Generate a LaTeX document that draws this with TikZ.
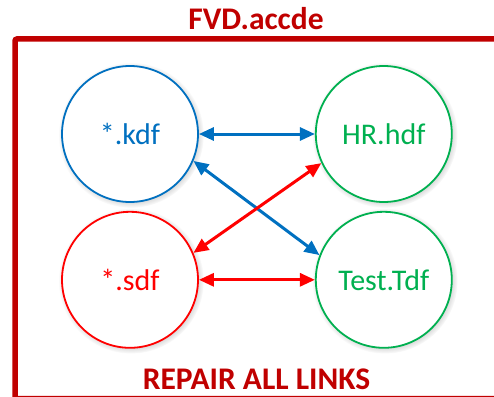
\documentclass[tikz,border=0pt]{standalone}
\usepackage{fontspec}
\setmainfont{Carlito}
\usetikzlibrary{arrows.meta,positioning,shadows}
\definecolor{framered}{HTML}{C00000}
\definecolor{kblue}{HTML}{0070C0}
\definecolor{hgreen}{HTML}{00B050}
\definecolor{sred}{HTML}{FF0000}

\begin{document}
\begin{tikzpicture}[x=1pt,y=-1pt,
  file/.style={circle,draw=#1,text=#1,line width=1.8pt,fill=white,minimum size=136pt,inner sep=0pt,
    font=\fontsize{30}{32}\selectfont,
    circular drop shadow={shadow xshift=1pt,shadow yshift=-1pt,shadow scale=1.07,opacity=0.5}},
  link/.style={{Triangle[length=15pt,width=13pt]}-{Triangle[length=15pt,width=13pt]},line width=3pt,color=#1},
  banner/.style={text=framered,font=\fontsize{31.5}{33}\selectfont\bfseries,anchor=base},
  node distance=116pt and 8pt
]
\useasboundingbox (0,0) rectangle (494,396);
\begin{scope}
\clip (0,0) rectangle (494,396);
\draw[framered,line width=5.5pt,rounded corners=2pt] (15,39) rectangle (520,398.5);
\end{scope}

\node[banner] (title) at (256,30) {FVD.accde};
\node[banner] (repair) at (256.5,389) {REPAIR ALL LINKS};

\node[file=kblue] (kdf) at (130,134) {*.kdf};
\node[file=hgreen,right=116pt of kdf] (hr) {HR.hdf};
\node[file=sred,below=8pt of kdf] (sdf) {*.sdf};
\node[file=hgreen,below=8pt of hr] (test) {Test.Tdf};

\draw[link=kblue] (kdf) -- (hr);
\draw[link=kblue] (kdf.-23) -- (test.159);
\draw[link=sred] (hr.205) -- (sdf.23);
\draw[link=sred] (sdf) -- (test);
\end{tikzpicture}
\end{document}
